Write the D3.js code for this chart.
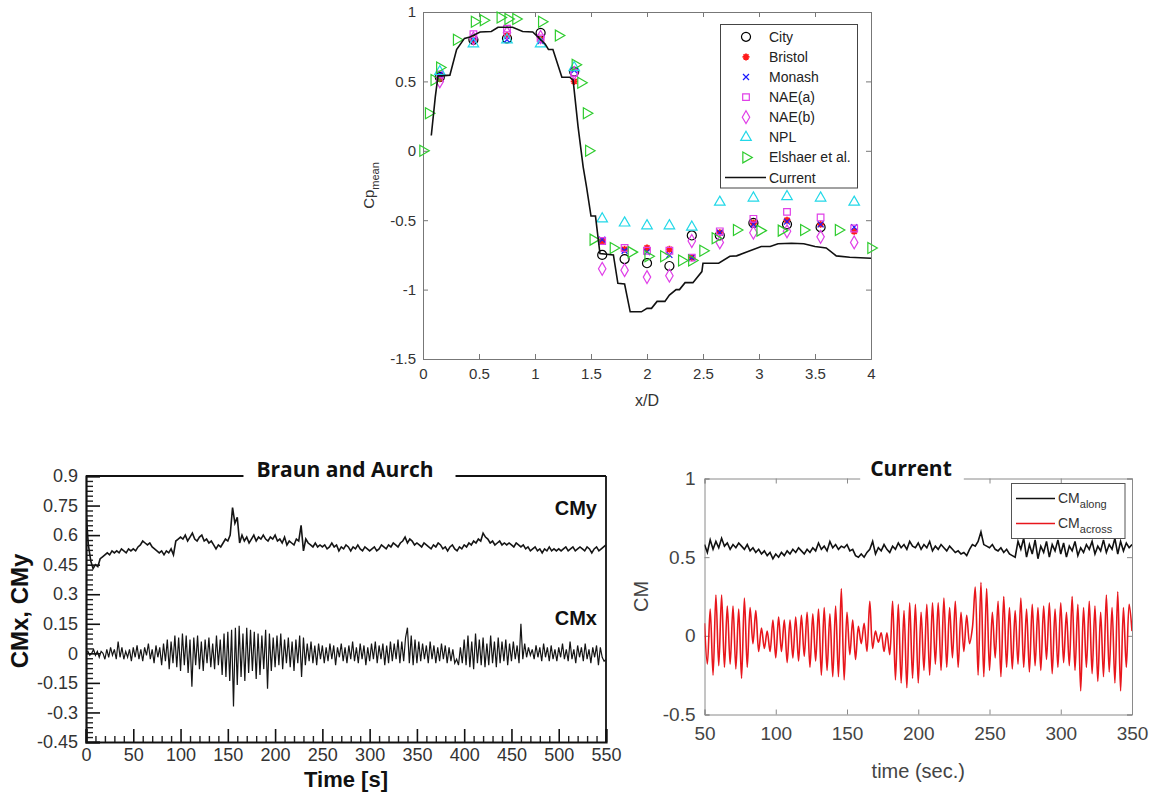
<!DOCTYPE html>
<html>
<head>
<meta charset="utf-8">
<script src="https://cdn.jsdelivr.net/npm/d3@7"></script>
<style>
  body { margin: 0; background: #fff; }
  svg { display: block; font-family: "Liberation Sans", Arial, sans-serif; }
</style>
</head>
<body>
<div id="chart"></div>
<script>
// ---------- top panel: mean pressure coefficient ----------
const cpXTicks = [0, 0.5, 1, 1.5, 2, 2.5, 3, 3.5, 4];
const cpYTicks = [1, 0.5, 0, -0.5, -1, -1.5];

const xExp = [0.15, 0.45, 0.75, 1.05, 1.35, 1.6, 1.8, 2.0, 2.2, 2.4, 2.65, 2.95, 3.25, 3.55, 3.85];
const cityCp    = [0.53, 0.80, 0.81, 0.85, 0.57, -0.75, -0.78, -0.81, -0.83, -0.61, -0.61, -0.52, -0.53, -0.55, null];
const bristolCp = [0.52, 0.80, 0.83, 0.80, 0.50, -0.65, -0.71, -0.70, -0.71, -0.77, -0.59, -0.52, -0.50, -0.53, -0.58];
const monashCp  = [0.55, 0.80, 0.80, 0.79, 0.58, -0.64, -0.72, -0.73, -0.75, -0.77, -0.59, -0.53, -0.51, -0.53, -0.55];
const naeACp    = [0.55, 0.84, 0.88, 0.81, 0.56, -0.65, -0.70, -0.72, -0.72, -0.77, -0.58, -0.49, -0.44, -0.48, -0.56];
const naeBCp    = [0.50, 0.81, 0.85, 0.82, 0.56, -0.85, -0.86, -0.91, -0.90, -0.65, -0.66, -0.59, -0.58, -0.62, -0.66];
const nplCp     = [0.57, 0.77, 0.80, 0.77, 0.60, -0.49, -0.52, -0.54, -0.54, -0.55, -0.37, -0.34, -0.33, -0.34, -0.37];

const elshaerX  = [0, 0.05, 0.10, 0.15, 0.30, 0.46, 0.54, 0.69, 0.76, 0.83, 1.06, 1.21, 1.36, 1.41, 1.46, 1.48,
                   1.52, 1.70, 1.86, 2.01, 2.15, 2.31, 2.40, 2.50, 2.61, 2.80, 3.01, 3.20, 3.40, 3.71, 4.0];
const elshaerCp = [0, 0.27, 0.51, 0.60, 0.80, 0.93, 0.94, 0.96, 0.95, 0.95, 0.93, 0.83, 0.62, 0.49, 0.27, 0.0,
                   -0.64, -0.70, -0.73, -0.76, -0.76, -0.79, -0.79, -0.72, -0.63, -0.57, -0.575, -0.575, -0.57, -0.57, -0.70];

const currentX  = [0.074, 0.11, 0.134, 0.164, 0.24, 0.30, 0.37, 0.42, 0.51, 0.61, 0.67, 0.80, 0.89, 0.98, 1.09, 1.12,
                   1.16, 1.24, 1.31, 1.34, 1.385, 1.43, 1.46, 1.50, 1.54, 1.58, 1.70, 1.74, 1.80, 1.85, 1.95, 2.0,
                   2.04, 2.09, 2.16, 2.20, 2.26, 2.29, 2.34, 2.41, 2.49, 2.50, 2.64, 2.74, 2.80, 2.89, 3.02, 3.10,
                   3.17, 3.29, 3.40, 3.50, 3.60, 3.69, 3.81, 4.0];
const currentCp = [0.11, 0.39, 0.54, 0.54, 0.545, 0.73, 0.81, 0.82, 0.856, 0.86, 0.89, 0.89, 0.86, 0.856, 0.77, 0.73,
                   0.73, 0.53, 0.53, 0.51, 0.17, -0.115, -0.26, -0.47, -0.47, -0.74, -0.75, -0.955, -0.96, -1.16, -1.16, -1.135,
                   -1.135, -1.085, -1.085, -1.04, -1.0, -1.0, -0.95, -0.95, -0.87, -0.81, -0.81, -0.76, -0.757, -0.73, -0.69, -0.69,
                   -0.67, -0.666, -0.67, -0.69, -0.70, -0.757, -0.767, -0.774];

const legendNames = ["City", "Bristol", "Monash", "NAE(a)", "NAE(b)", "NPL", "Elshaer et al.", "Current"];

// ---------- bottom left: Braun and Aurch ----------
const braunXTicks = [0, 50, 100, 150, 200, 250, 300, 350, 400, 450, 500, 550];
const braunYTicks = [0.9, 0.75, 0.6, 0.45, 0.3, 0.15, 0, -0.15, -0.3, -0.45];
const braunStepY = 2.5;  // seconds between CMy samples
const braunStepX = 2;    // seconds between CMx samples

const braunCMy = [
  0.72, 0.55, 0.47, 0.43, 0.45, 0.44, 0.48, 0.49, 0.50, 0.51, 0.50, 0.52, 0.51, 0.52, 0.51, 0.53, 0.52, 0.51, 0.53, 0.52,
  0.53, 0.52, 0.54, 0.55, 0.57, 0.56, 0.55, 0.56, 0.54, 0.53, 0.52, 0.51, 0.52, 0.50, 0.52, 0.51, 0.53, 0.50, 0.57, 0.58,
  0.59, 0.58, 0.60, 0.57, 0.59, 0.61, 0.58, 0.57, 0.59, 0.60, 0.57, 0.58, 0.56, 0.57, 0.55, 0.53, 0.55, 0.54, 0.56, 0.58,
  0.57, 0.60, 0.74, 0.66, 0.69, 0.56, 0.60, 0.57, 0.59, 0.56, 0.58, 0.60, 0.57, 0.59, 0.58, 0.60, 0.58, 0.57, 0.59, 0.58,
  0.60, 0.57, 0.58, 0.56, 0.59, 0.55, 0.57, 0.56, 0.55, 0.58, 0.57, 0.65, 0.52, 0.58, 0.56, 0.55, 0.54, 0.56, 0.54, 0.55,
  0.54, 0.55, 0.53, 0.54, 0.56, 0.54, 0.55, 0.52, 0.54, 0.53, 0.55, 0.54, 0.52, 0.54, 0.53, 0.55, 0.53, 0.52, 0.54, 0.53,
  0.52, 0.53, 0.54, 0.52, 0.53, 0.55, 0.54, 0.53, 0.55, 0.54, 0.56, 0.55, 0.54, 0.56, 0.57, 0.59, 0.56, 0.58, 0.57, 0.55,
  0.56, 0.55, 0.54, 0.56, 0.55, 0.54, 0.53, 0.55, 0.54, 0.56, 0.55, 0.53, 0.54, 0.52, 0.54, 0.55, 0.53, 0.52, 0.54, 0.53,
  0.55, 0.54, 0.56, 0.55, 0.57, 0.56, 0.58, 0.57, 0.61, 0.59, 0.58, 0.56, 0.57, 0.55, 0.56, 0.57, 0.55, 0.56, 0.55, 0.56,
  0.55, 0.54, 0.56, 0.55, 0.54, 0.55, 0.53, 0.54, 0.52, 0.53, 0.54, 0.52, 0.53, 0.51, 0.53, 0.52, 0.54, 0.52, 0.53, 0.52,
  0.53, 0.52, 0.53, 0.54, 0.52, 0.53, 0.54, 0.52, 0.53, 0.54, 0.53, 0.52, 0.54, 0.53, 0.51, 0.53, 0.54, 0.52, 0.53, 0.54, 0.55
];

const braunCMx = [
  0.00, 0.01, -0.01, 0.00, 0.02, -0.01, 0.01, -0.02, 0.01, 0.00, -0.03, 0.02, -0.02, 0.03, -0.01, 0.02, -0.03, 0.06, -0.02, 0.03, -0.03, 0.01, -0.02, 0.02, -0.04,
  0.03, -0.02, 0.04, -0.03, 0.02, -0.04, 0.03, -0.01, 0.05, -0.03, 0.02, -0.05, 0.04, -0.02, 0.03, -0.06, 0.05, -0.04, 0.07, -0.08, 0.06, -0.05, 0.09, -0.07, 0.08,
  -0.09, 0.10, -0.06, 0.09, -0.10, 0.07, -0.17, 0.08, -0.06, 0.09, -0.08, 0.06, -0.09, 0.07, -0.05, 0.08, -0.07, 0.05, -0.08, 0.09, -0.06, 0.07, -0.11, 0.10, -0.12,
  0.11, -0.14, 0.12, -0.27, 0.13, -0.16, 0.14, -0.12, 0.10, -0.14, 0.13, -0.10, 0.12, -0.09, 0.11, -0.13, 0.10, -0.11, 0.09, -0.08, 0.12, -0.18, 0.10, -0.09, 0.08,
  -0.07, 0.09, -0.06, 0.10, -0.08, 0.07, -0.05, 0.08, -0.07, 0.06, -0.09, 0.07, -0.05, 0.09, -0.12, 0.08, -0.06, 0.05, -0.04, 0.06, -0.05, 0.04, -0.06, 0.05, -0.03,
  0.04, -0.05, 0.03, -0.04, 0.05, -0.03, 0.04, -0.06, 0.03, -0.02, 0.05, -0.04, 0.03, -0.05, 0.04, -0.03, 0.06, -0.04, 0.03, -0.05, 0.05, -0.03, 0.04, -0.06, 0.03,
  -0.04, 0.05, -0.03, 0.06, -0.05, 0.04, -0.03, 0.05, -0.06, 0.04, -0.05, 0.06, -0.04, 0.05, -0.03, 0.07, -0.05, 0.06, -0.04, 0.08, 0.13, -0.05, 0.09, -0.06, 0.07,
  -0.05, 0.06, -0.04, 0.05, -0.03, 0.04, -0.05, 0.06, -0.03, 0.04, -0.05, 0.03, -0.04, 0.05, -0.03, 0.04, -0.05, 0.03, -0.04, 0.02, -0.05, -0.03, -0.06, 0.03, -0.05,
  0.07, -0.06, 0.09, -0.07, 0.06, -0.08, 0.10, -0.05, 0.07, -0.06, 0.08, -0.07, 0.05, -0.06, 0.09, -0.05, 0.06, -0.07, 0.08, -0.05, 0.06, -0.04, 0.07, -0.06, 0.05,
  -0.04, 0.06, -0.03, 0.04, -0.05, 0.15, -0.03, 0.05, -0.02, 0.03, -0.01, 0.02, -0.03, 0.04, -0.02, 0.03, -0.04, 0.05, -0.02, 0.03, -0.04, 0.04, -0.03, 0.02, -0.04,
  0.03, -0.02, 0.05, -0.03, 0.02, -0.04, 0.06, -0.03, 0.02, -0.05, 0.04, -0.02, 0.03, -0.04, 0.05, -0.03, 0.02, -0.05, 0.03, -0.02, 0.04, -0.06, 0.03, -0.02, -0.04, -0.03
];

// ---------- bottom right: Current ----------
const curXTicks = [50, 100, 150, 200, 250, 300, 350];
const curYTicks = [-0.5, 0, 0.5, 1];
const curStart = 50, curStep = 2;

const cmAlong = [
  0.58, 0.53, 0.61, 0.55, 0.60, 0.56, 0.62, 0.57, 0.59, 0.55, 0.58, 0.56, 0.59, 0.57, 0.55, 0.58, 0.54, 0.56, 0.53, 0.55, 0.52, 0.54, 0.51, 0.53, 0.49,
  0.52, 0.50, 0.53, 0.51, 0.54, 0.52, 0.55, 0.53, 0.56, 0.54, 0.52, 0.55, 0.53, 0.56, 0.54, 0.59, 0.55, 0.57, 0.54, 0.60, 0.56, 0.58, 0.55, 0.57, 0.56,
  0.58, 0.54, 0.55, 0.51, 0.50, 0.52, 0.50, 0.53, 0.55, 0.60, 0.52, 0.56, 0.54, 0.58, 0.55, 0.53, 0.57, 0.55, 0.59, 0.56, 0.58, 0.55, 0.60, 0.57, 0.56,
  0.59, 0.55, 0.58, 0.56, 0.60, 0.54, 0.57, 0.55, 0.58, 0.56, 0.54, 0.57, 0.55, 0.53, 0.54, 0.52, 0.53, 0.51, 0.55, 0.58, 0.57, 0.60, 0.66, 0.58, 0.57,
  0.56, 0.58, 0.55, 0.54, 0.56, 0.53, 0.55, 0.52, 0.51, 0.50, 0.60, 0.55, 0.62, 0.50, 0.58, 0.52, 0.61, 0.49, 0.57, 0.53, 0.60, 0.50, 0.58, 0.54, 0.61,
  0.52, 0.59, 0.50, 0.57, 0.54, 0.60, 0.51, 0.56, 0.53, 0.58, 0.55, 0.60, 0.52, 0.57, 0.54, 0.61, 0.53, 0.58, 0.55, 0.62, 0.52, 0.60, 0.54, 0.59, 0.56, 0.58
];

const cmAcross = [
  0.08, -0.18, 0.17, -0.25, 0.26, -0.19, 0.26, -0.20, 0.19, -0.18, 0.19, -0.21, 0.17, -0.27, 0.24, -0.20, 0.18, -0.05, 0.16, -0.10, 0.05, -0.08, 0.03, -0.10, 0.10,
  -0.14, 0.12, -0.10, 0.10, -0.17, 0.10, -0.14, 0.12, -0.16, 0.13, -0.13, 0.15, -0.20, 0.14, -0.16, 0.17, -0.25, 0.18, -0.22, 0.14, -0.26, 0.19, -0.26, 0.30, -0.28,
  0.15, -0.12, 0.10, -0.15, 0.06, -0.05, 0.08, -0.10, 0.22, -0.08, 0.03, -0.04, 0.02, -0.10, 0.02, -0.12, 0.22, -0.28, 0.20, -0.30, 0.16, -0.33, 0.21, -0.27, 0.20,
  -0.30, 0.15, -0.22, 0.20, -0.25, 0.21, -0.18, 0.21, -0.22, 0.24, -0.20, 0.18, -0.14, 0.22, -0.20, 0.15, -0.10, 0.13, -0.05, 0.05, 0.31, -0.25, 0.34, -0.26, 0.30,
  -0.22, 0.15, -0.14, 0.22, -0.26, 0.25, -0.20, 0.18, -0.21, 0.16, -0.18, 0.24, -0.20, 0.17, -0.23, 0.20, -0.19, 0.18, -0.22, 0.19, -0.15, 0.21, -0.24, 0.17, -0.20,
  0.21, -0.17, 0.15, -0.19, 0.25, -0.22, 0.20, -0.35, 0.18, -0.20, 0.22, -0.24, 0.19, -0.29, 0.15, -0.26, 0.26, -0.23, 0.18, -0.30, 0.28, -0.35, 0.18, -0.20, 0.20, 0.03
];

// ================= drawing =================
const svg = d3.select("#chart").append("svg")
    .attr("width", 1149)
    .attr("height", 796);

svg.append("rect").attr("width", 1149).attr("height", 796).attr("fill", "#fff");

const defs = svg.append("defs");

function styleTicks(g, color, size) {
    g.selectAll("text")
        .attr("fill", color)
        .style("font-size", size + "px")
        .style("font-family", "'Liberation Sans', Arial, sans-serif");
}

// ---------------- top panel ----------------
const xCp = d3.scaleLinear().domain([0, 4]).range([423, 871]);
const yCp = d3.scaleLinear().domain([-1.5, 1]).range([359, 12]);
const gTop = svg.append("g");
const topAxisColor = "#777";

gTop.append("g")
    .attr("transform", `translate(0,${yCp(-1.5)})`)
    .call(d3.axisBottom(xCp).tickValues(cpXTicks).tickSize(-5).tickPadding(9).tickFormat(String))
    .call(g => g.selectAll("line,path").attr("stroke", topAxisColor))
    .call(g => styleTicks(g, "#333", 15));
gTop.append("g")
    .attr("transform", `translate(${xCp(0)},0)`)
    .call(d3.axisLeft(yCp).tickValues(cpYTicks).tickSize(-5).tickPadding(7).tickFormat(String))
    .call(g => g.selectAll("line,path").attr("stroke", topAxisColor))
    .call(g => styleTicks(g, "#333", 15));
gTop.append("g")
    .attr("transform", `translate(0,${yCp(1)})`)
    .call(d3.axisTop(xCp).tickValues(cpXTicks).tickSize(-5).tickFormat(""))
    .call(g => g.selectAll("line,path").attr("stroke", topAxisColor));
gTop.append("g")
    .attr("transform", `translate(${xCp(4)},0)`)
    .call(d3.axisRight(yCp).tickValues(cpYTicks).tickSize(-5).tickFormat(""))
    .call(g => g.selectAll("line,path").attr("stroke", topAxisColor));

gTop.append("text")
    .attr("x", (xCp(0) + xCp(4)) / 2).attr("y", 406)
    .attr("text-anchor", "middle")
    .attr("fill", "#333").style("font-size", "16px")
    .text("x/D");

const cpLabel = gTop.append("text")
    .attr("transform", `translate(374,${(yCp(1) + yCp(-1.5)) / 2}) rotate(-90)`)
    .attr("text-anchor", "middle")
    .attr("fill", "#333").style("font-size", "15px");
cpLabel.append("tspan").text("Cp");
cpLabel.append("tspan").attr("dy", 5).style("font-size", "11px").text("mean");

// marker shapes
function markerPath(kind) {
    switch (kind) {
        case "circle":  return d3.symbol(d3.symbolCircle, 64)();
        case "square":  return d3.symbol(d3.symbolSquare, 44)();
        case "diamond": return d3.symbol(d3.symbolDiamond, 48)();
        case "triangle": return d3.symbol(d3.symbolTriangle, 48)();
        case "right": return d3.symbol(d3.symbolTriangle, 52)();
        case "x": return "M-3,-3L3,3M-3,3L3,-3";
        case "star": return "M0,-3.5V3.5M-3.5,0H3.5M-2.5,-2.5L2.5,2.5M-2.5,2.5L2.5,-2.5";
    }
}

const expSeries = [
    { name: "City",    x: xExp, y: cityCp,    kind: "circle",   color: "#000" },
    { name: "Bristol", x: xExp, y: bristolCp, kind: "star",     color: "#ff1a1a" },
    { name: "Monash",  x: xExp, y: monashCp,  kind: "x",        color: "#1a1aff" },
    { name: "NAE(a)",  x: xExp, y: naeACp,    kind: "square",   color: "#e040e8" },
    { name: "NAE(b)",  x: xExp, y: naeBCp,    kind: "diamond",  color: "#e040e8" },
    { name: "NPL",     x: xExp, y: nplCp,     kind: "triangle", color: "#22d8e8" },
    { name: "Elshaer et al.", x: elshaerX, y: elshaerCp, kind: "right", color: "#2ecc2e" }
];

function drawMarker(sel, s) {
    sel.attr("d", markerPath(s.kind))
        .attr("fill", "none")
        .attr("stroke", s.color)
        .attr("stroke-width", s.kind === "star" ? 1.8 : 1.2);
}

expSeries.forEach(s => {
    const pts = d3.zip(s.x, s.y).filter(d => d[1] !== null);
    gTop.append("g").selectAll("path")
        .data(pts)
        .join("path")
        .attr("transform", d => `translate(${xCp(d[0])},${yCp(d[1])})` + (s.kind === "right" ? " rotate(90)" : ""))
        .call(sel => drawMarker(sel, s));
});

gTop.append("path")
    .datum(d3.zip(currentX, currentCp))
    .attr("fill", "none")
    .attr("stroke", "#111")
    .attr("stroke-width", 1.6)
    .attr("d", d3.line().x(d => xCp(d[0])).y(d => yCp(d[1])));

// legend
const leg = gTop.append("g");
leg.append("rect")
    .attr("x", 720.5).attr("y", 24.5).attr("width", 137).attr("height", 163.5)
    .attr("fill", "#fff").attr("stroke", "#444");
legendNames.forEach((name, i) => {
    const cy = 36.8 + i * 20.1;
    const s = expSeries.find(e => e.name === name);
    if (s) {
        leg.append("path")
            .attr("transform", `translate(746,${cy})` + (s.kind === "right" ? " rotate(90)" : ""))
            .call(sel => drawMarker(sel, s));
    } else {
        leg.append("line").attr("x1", 725).attr("x2", 766).attr("y1", cy).attr("y2", cy)
            .attr("stroke", "#111").attr("stroke-width", 1.6);
    }
    leg.append("text").attr("x", 769).attr("y", cy + 5)
        .attr("fill", "#222").style("font-size", "14px").text(name);
});

// ---------------- bottom left: Braun and Aurch ----------------
const xBr = d3.scaleLinear().domain([0, 550]).range([86, 606]);
const yBr = d3.scaleLinear().domain([-0.45, 0.9]).range([742, 476]);
const gBr = svg.append("g");

defs.append("clipPath").attr("id", "clipBr")
    .append("rect").attr("x", xBr(0)).attr("y", yBr(0.9)).attr("width", xBr(550) - xBr(0)).attr("height", yBr(-0.45) - yBr(0.9));

const minorY = d3.range(-0.45, 0.9001, 0.025).filter(v => Math.abs(Math.round(v / 0.15) * 0.15 - v) > 1e-6);
const minorX = d3.range(0, 551, 10).filter(v => v % 50 !== 0);

gBr.append("g")
    .attr("transform", `translate(${xBr(0)},0)`)
    .call(d3.axisLeft(yBr).tickValues(minorY).tickSize(-7).tickFormat(""))
    .call(g => g.select(".domain").remove())
    .call(g => g.selectAll("line").attr("stroke", "#222").attr("stroke-width", 1.4));
gBr.append("g")
    .attr("transform", `translate(${xBr(0)},0)`)
    .call(d3.axisLeft(yBr).tickValues(braunYTicks).tickSize(-14).tickPadding(8).tickFormat(String))
    .call(g => g.selectAll("line").attr("stroke", "#111").attr("stroke-width", 1.6))
    .call(g => g.select(".domain").attr("stroke", "#111").attr("stroke-width", 2.2))
    .call(g => styleTicks(g, "#333", 18));
gBr.append("g")
    .attr("transform", `translate(0,${yBr(-0.45)})`)
    .call(d3.axisBottom(xBr).tickValues(minorX).tickSize(-6).tickFormat(""))
    .call(g => g.select(".domain").remove())
    .call(g => g.selectAll("line").attr("stroke", "#222").attr("stroke-width", 1.4));
gBr.append("g")
    .attr("transform", `translate(0,${yBr(-0.45)})`)
    .call(d3.axisBottom(xBr).tickValues(braunXTicks).tickSize(-13).tickPadding(6).tickFormat(String))
    .call(g => g.selectAll("line").attr("stroke", "#111").attr("stroke-width", 1.6))
    .call(g => g.select(".domain").attr("stroke", "#111").attr("stroke-width", 2.2))
    .call(g => styleTicks(g, "#333", 18));
gBr.append("line")
    .attr("x1", xBr(550)).attr("x2", xBr(550)).attr("y1", yBr(0.9)).attr("y2", yBr(-0.45))
    .attr("stroke", "#111").attr("stroke-width", 1.8);

const brTitle = gBr.append("text")
    .attr("x", 345).attr("y", 477)
    .attr("text-anchor", "middle")
    .style("font-family", "'Open Sans', sans-serif")
    .style("font-weight", 700).style("font-size", "21px")
    .attr("fill", "#111")
    .text("Braun and Aurch");
const bb1 = brTitle.node().getBBox();
gBr.append("line").attr("x1", xBr(0)).attr("x2", bb1.x - 13).attr("y1", yBr(0.9)).attr("y2", yBr(0.9))
    .attr("stroke", "#111").attr("stroke-width", 1.8);
gBr.append("line").attr("x1", bb1.x + bb1.width + 22).attr("x2", xBr(550)).attr("y1", yBr(0.9)).attr("y2", yBr(0.9))
    .attr("stroke", "#111").attr("stroke-width", 1.8);

const brLine = d3.line().x(d => xBr(d[0])).y(d => yBr(d[1]));
const brPlot = gBr.append("g").attr("clip-path", "url(#clipBr)");
brPlot.append("path")
    .datum(braunCMy.map((v, i) => [i * braunStepY, v]))
    .attr("fill", "none").attr("stroke", "#151515").attr("stroke-width", 1.6)
    .attr("d", brLine);
brPlot.append("path")
    .datum(braunCMx.map((v, i) => [i * braunStepX, v]))
    .attr("fill", "none").attr("stroke", "#151515").attr("stroke-width", 1.2)
    .attr("d", brLine);

gBr.append("text").attr("x", 597).attr("y", 515).attr("text-anchor", "end")
    .style("font-weight", 700).style("font-size", "20px").attr("fill", "#111").text("CMy");
gBr.append("text").attr("x", 597).attr("y", 625).attr("text-anchor", "end")
    .style("font-weight", 700).style("font-size", "20px").attr("fill", "#111").text("CMx");

gBr.append("text")
    .attr("x", (xBr(0) + xBr(550)) / 2).attr("y", 787)
    .attr("text-anchor", "middle")
    .style("font-weight", 700).style("font-size", "22px").attr("fill", "#111")
    .text("Time [s]");
gBr.append("text")
    .attr("transform", `translate(28,${(yBr(0.9) + yBr(-0.45)) / 2 + 2}) rotate(-90)`)
    .attr("text-anchor", "middle")
    .style("font-weight", 700).style("font-size", "24px").attr("fill", "#111")
    .text("CMx, CMy");

// ---------------- bottom right: Current ----------------
const xCu = d3.scaleLinear().domain([50, 350]).range([704.5, 1132]);
const yCu = d3.scaleLinear().domain([-0.5, 1]).range([714.5, 478.5]);
const gCu = svg.append("g");
const cuAxisColor = "#8a8a8a";

defs.append("clipPath").attr("id", "clipCu")
    .append("rect").attr("x", xCu(50)).attr("y", yCu(1)).attr("width", xCu(350) - xCu(50)).attr("height", yCu(-0.5) - yCu(1));

gCu.append("g")
    .attr("transform", `translate(0,${yCu(-0.5)})`)
    .call(d3.axisBottom(xCu).tickValues(curXTicks).tickSize(-5).tickPadding(12).tickFormat(String))
    .call(g => g.selectAll("line,path").attr("stroke", cuAxisColor))
    .call(g => styleTicks(g, "#444", 19));
gCu.append("g")
    .attr("transform", `translate(${xCu(50)},0)`)
    .call(d3.axisLeft(yCu).tickValues(curYTicks).tickSize(-5).tickPadding(9).tickFormat(String))
    .call(g => g.selectAll("line,path").attr("stroke", cuAxisColor))
    .call(g => styleTicks(g, "#444", 19));
gCu.append("g")
    .attr("transform", `translate(${xCu(350)},0)`)
    .call(d3.axisRight(yCu).tickValues(curYTicks).tickSize(-5).tickFormat(""))
    .call(g => g.selectAll("line,path").attr("stroke", cuAxisColor));
gCu.append("g")
    .attr("transform", `translate(0,${yCu(1)})`)
    .call(d3.axisTop(xCu).tickValues(curXTicks).tickSize(-5).tickFormat(""))
    .call(g => g.selectAll("line,path").attr("stroke", cuAxisColor));

const cuPlot = gCu.append("g").attr("clip-path", "url(#clipCu)");
cuPlot.append("path")
    .datum(cmAcross.map((v, i) => [curStart + i * curStep, v]))
    .attr("fill", "none").attr("stroke", "#e8161c").attr("stroke-width", 1.6)
    .attr("d", d3.line().curve(d3.curveCatmullRom).x(d => xCu(d[0])).y(d => yCu(d[1])));
cuPlot.append("path")
    .datum(cmAlong.map((v, i) => [curStart + i * curStep, v]))
    .attr("fill", "none").attr("stroke", "#111").attr("stroke-width", 1.6)
    .attr("d", d3.line().x(d => xCu(d[0])).y(d => yCu(d[1])));

// title with a white patch over the top frame
const cuTitle = gCu.append("text")
    .attr("x", 911).attr("y", 476)
    .attr("text-anchor", "middle")
    .style("font-family", "'Open Sans', sans-serif")
    .style("font-weight", 700).style("font-size", "21px")
    .attr("fill", "#111")
    .text("Current");
const bb2 = cuTitle.node().getBBox();
gCu.insert("rect", () => cuTitle.node())
    .attr("x", bb2.x - 10).attr("y", yCu(1) - 4).attr("width", bb2.width + 22).attr("height", 10)
    .attr("fill", "#fff");

gCu.append("text")
    .attr("x", (xCu(50) + xCu(350)) / 2).attr("y", 778)
    .attr("text-anchor", "middle")
    .attr("fill", "#444").style("font-size", "20px")
    .text("time (sec.)");
gCu.append("text")
    .attr("transform", `translate(648,${(yCu(1) + yCu(-0.5)) / 2}) rotate(-90)`)
    .attr("text-anchor", "middle")
    .attr("fill", "#444").style("font-size", "20px")
    .text("CM");

// legend
const cuLegend = [
    { sub: "along", color: "#111" },
    { sub: "across", color: "#e8161c" }
];
const lg2 = gCu.append("g");
lg2.append("rect")
    .attr("x", 1011.5).attr("y", 483.5).attr("width", 113.5).attr("height", 55)
    .attr("fill", "#fff").attr("stroke", "#555");
cuLegend.forEach((e, i) => {
    const cy = 498.5 + i * 25;
    lg2.append("line").attr("x1", 1016).attr("x2", 1055).attr("y1", cy).attr("y2", cy)
        .attr("stroke", e.color).attr("stroke-width", 1.5);
    const t = lg2.append("text").attr("x", 1058).attr("y", cy + 4)
        .attr("fill", "#333").style("font-size", "14px");
    t.append("tspan").text("CM");
    t.append("tspan").attr("dy", 5).style("font-size", "11px").text(e.sub);
});
</script>
</body>
</html>
